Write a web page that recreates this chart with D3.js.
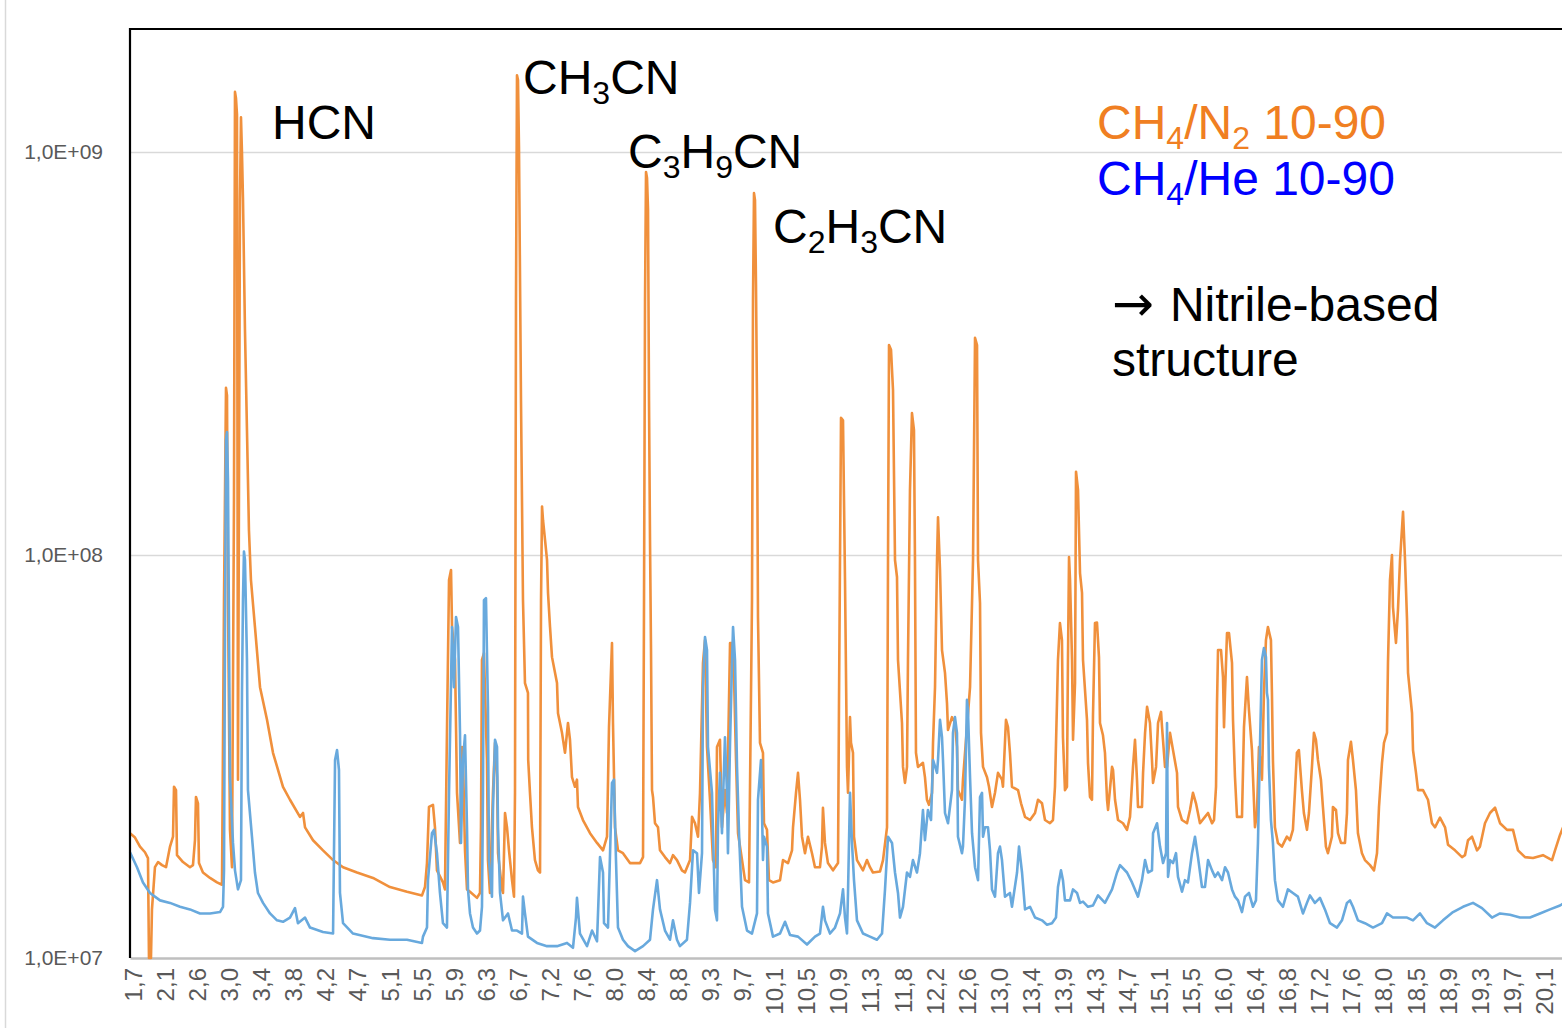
<!DOCTYPE html>
<html>
<head>
<meta charset="utf-8">
<script src="https://cdn.jsdelivr.net/npm/d3@7"></script>
<style>
  body { margin: 0; background: #fff; }
  svg { display: block; }
</style>
</head>
<body>
<svg id="chart" width="1562" height="1028"></svg>
<script>
// Retention-time category labels shown along the bottom axis (minutes)
const tickLabels = ["1,7","2,1","2,6","3,0","3,4","3,8","4,2","4,7","5,1","5,5","5,9","6,3","6,7","7,2","7,6","8,0","8,4","8,8","9,3","9,7","10,1","10,5","10,9","11,3","11,8","12,2","12,6","13,0","13,4","13,9","14,3","14,7","15,1","15,5","16,0","16,4","16,8","17,2","17,6","18,0","18,5","18,9","19,3","19,7","20,1"];
const tickStart = 1.72;     // time of the first labelled category
const tickStep = 0.4175;    // time between labelled categories
const timeRange = [1.681, 20.379];

// Intensity axis (log)
const yTicks = [1e7, 1e8, 1e9];
const yRange = [1e7, 2.02e9];

// CH4/N2 10-90 chromatogram: [retention time (min), intensity]
const n2Trace = [
[1.681,2.04e7],[1.746,1.99e7],[1.811,1.89e7],[1.876,1.83e7],[1.915,1.77e7],[1.928,1.0e7],[1.954,1.0e7],[1.967,1.32e7],[2.006,1.68e7],[2.046,1.73e7],
[2.098,1.70e7],[2.150,1.68e7],[2.202,1.89e7],[2.241,2.00e7],[2.254,2.66e7],[2.280,2.61e7],[2.293,1.80e7],[2.371,1.73e7],[2.462,1.68e7],[2.501,1.70e7],
[2.527,1.96e7],[2.540,2.51e7],[2.566,2.42e7],[2.579,1.72e7],[2.631,1.63e7],[2.723,1.58e7],[2.814,1.54e7],[2.879,1.52e7],[2.905,7.73e7],[2.931,2.60e8],
[2.944,2.49e8],[2.957,7.73e7],[2.983,2.08e7],[3.009,1.68e7],[3.035,1.37e8],[3.048,1.41e9],[3.061,1.36e9],[3.074,1.24e9],[3.087,2.77e7],[3.113,7.60e8],
[3.126,1.22e9],[3.139,9.94e8],[3.152,7.69e8],[3.178,3.62e8],[3.204,2.04e8],[3.230,1.15e8],[3.256,8.67e7],[3.308,6.63e7],[3.374,4.70e7],[3.465,3.90e7],
[3.543,3.23e7],[3.673,2.66e7],[3.764,2.47e7],[3.894,2.24e7],[3.934,2.29e7],[3.960,2.11e7],[4.064,1.96e7],[4.194,1.85e7],[4.325,1.75e7],[4.455,1.68e7],
[4.637,1.63e7],[4.845,1.58e7],[5.066,1.50e7],[5.288,1.46e7],[5.483,1.43e7],[5.522,1.50e7],[5.548,1.72e7],[5.574,2.37e7],[5.626,2.40e7],[5.652,2.11e7],
[5.678,1.65e7],[5.756,1.54e7],[5.782,1.48e7],[5.808,3.62e7],[5.835,8.67e7],[5.861,9.18e7],[5.874,6.63e7],[5.913,5.49e7],[5.939,2.57e7],[5.978,1.93e7],
[6.004,3.34e7],[6.017,3.10e7],[6.043,1.85e7],[6.069,1.48e7],[6.108,1.46e7],[6.199,1.41e7],[6.238,1.45e7],[6.251,2.11e7],[6.264,5.49e7],[6.290,5.71e7],
[6.329,3.10e7],[6.342,1.75e7],[6.368,1.45e7],[6.407,2.57e7],[6.434,3.42e7],[6.460,2.81e7],[6.473,1.82e7],[6.525,1.48e7],[6.538,1.45e7],[6.564,2.29e7],
[6.590,2.11e7],[6.616,1.85e7],[6.655,1.56e7],[6.681,1.42e7],[6.694,2.57e7],[6.707,4.29e8],[6.720,1.55e9],[6.733,1.51e9],[6.746,1.02e9],[6.772,2.42e8],
[6.798,7.73e7],[6.824,4.81e7],[6.863,4.55e7],[6.866,3.10e7],[6.889,2.57e7],[6.915,2.11e7],[6.954,1.75e7],[6.993,1.65e7],[7.020,1.63e7],[7.033,7.73e7],
[7.046,1.32e8],[7.059,1.22e8],[7.085,1.09e8],[7.111,9.72e7],[7.124,8.05e7],[7.150,6.63e7],[7.176,5.58e7],[7.241,4.81e7],[7.254,4.05e7],[7.306,3.62e7],
[7.345,3.23e7],[7.384,3.83e7],[7.410,3.48e7],[7.436,2.81e7],[7.475,2.66e7],[7.501,2.77e7],[7.514,2.37e7],[7.579,2.20e7],[7.671,2.04e7],[7.762,1.93e7],
[7.840,1.85e7],[7.892,2.00e7],[7.918,3.74e7],[7.957,6.05e7],[7.970,3.83e7],[7.996,2.11e7],[8.035,1.85e7],[8.100,1.82e7],[8.191,1.72e7],[8.322,1.72e7],
[8.361,1.78e7],[8.374,7.73e7],[8.387,4.29e8],[8.400,8.92e8],[8.413,8.62e8],[8.426,7.18e8],[8.439,2.42e8],[8.452,1.09e8],[8.465,5.81e7],[8.478,2.61e7],
[8.491,2.51e7],[8.517,2.16e7],[8.556,2.11e7],[8.582,1.85e7],[8.647,1.78e7],[8.712,1.72e7],[8.751,1.80e7],[8.803,1.75e7],[8.868,1.65e7],[8.907,1.63e7],
[8.973,1.75e7],[8.999,2.24e7],[9.038,2.16e7],[9.077,2.00e7],[9.103,2.57e7],[9.142,5.40e7],[9.168,6.15e7],[9.194,3.34e7],[9.233,2.47e7],[9.272,1.75e7],
[9.311,1.68e7],[9.324,3.34e7],[9.363,3.48e7],[9.389,2.11e7],[9.428,2.61e7],[9.454,2.29e7],[9.494,6.05e7],[9.520,6.05e7],[9.546,4.98e7],[9.572,3.10e7],
[9.598,2.04e7],[9.650,1.75e7],[9.689,1.56e7],[9.741,1.54e7],[9.780,7.73e7],[9.793,4.29e8],[9.806,7.91e8],[9.819,7.60e8],[9.832,4.68e8],[9.845,2.42e8],
[9.858,7.02e7],[9.884,3.42e7],[9.923,3.23e7],[9.936,2.16e7],[9.975,2.08e7],[10.001,1.56e7],[10.053,1.54e7],[10.145,1.56e7],[10.184,1.75e7],[10.249,1.72e7],
[10.301,1.85e7],[10.314,2.11e7],[10.353,2.57e7],[10.379,2.88e7],[10.405,2.47e7],[10.431,2.00e7],[10.470,1.82e7],[10.509,2.00e7],[10.561,1.82e7],[10.600,1.68e7],
[10.665,1.68e7],[10.691,1.89e7],[10.704,2.36e7],[10.730,1.93e7],[10.769,1.72e7],[10.835,1.65e7],[10.900,1.72e7],[10.913,4.37e7],[10.939,2.19e8],[10.965,2.16e8],
[10.991,8.67e7],[11.017,2.98e7],[11.030,2.57e7],[11.056,3.96e7],[11.069,3.42e7],[11.095,3.23e7],[11.108,2.00e7],[11.147,1.75e7],[11.225,1.65e7],[11.277,1.75e7],
[11.316,1.68e7],[11.355,1.63e7],[11.447,1.64e7],[11.486,1.75e7],[11.538,2.11e7],[11.551,9.72e7],[11.564,3.32e8],[11.590,3.23e8],[11.616,2.57e8],[11.642,9.72e7],
[11.668,8.82e7],[11.681,5.49e7],[11.733,3.83e7],[11.746,2.98e7],[11.772,2.72e7],[11.798,2.98e7],[11.811,5.49e7],[11.837,1.45e8],[11.863,2.25e8],[11.889,2.04e8],
[11.902,9.72e7],[11.915,3.23e7],[11.941,2.98e7],[12.006,3.05e7],[12.032,2.81e7],[12.058,2.47e7],[12.084,2.40e7],[12.124,2.57e7],[12.137,3.42e7],[12.163,4.70e7],
[12.189,9.72e7],[12.202,1.24e8],[12.228,9.18e7],[12.254,5.81e7],[12.293,5.10e7],[12.319,4.29e7],[12.332,3.68e7],[12.384,3.96e7],[12.423,3.83e7],[12.449,3.34e7],
[12.462,2.61e7],[12.514,2.47e7],[12.527,2.77e7],[12.619,4.70e7],[12.658,9.72e7],[12.684,3.46e8],[12.710,3.32e8],[12.723,9.72e7],[12.749,7.60e7],[12.762,3.62e7],
[12.788,2.98e7],[12.840,2.81e7],[12.866,2.66e7],[12.905,2.37e7],[12.944,2.57e7],[12.983,2.88e7],[13.035,2.77e7],[13.048,2.66e7],[13.087,3.90e7],[13.113,3.74e7],
[13.139,3.23e7],[13.165,2.66e7],[13.244,2.61e7],[13.283,2.42e7],[13.335,2.24e7],[13.400,2.20e7],[13.465,2.29e7],[13.504,2.47e7],[13.556,2.42e7],[13.595,2.20e7],
[13.660,2.16e7],[13.699,2.20e7],[13.725,2.66e7],[13.751,4.29e7],[13.764,5.49e7],[13.790,6.78e7],[13.816,6.15e7],[13.829,3.53e7],[13.855,2.61e7],[13.881,2.66e7],
[13.894,5.49e7],[13.908,9.89e7],[13.921,8.67e7],[13.947,5.49e7],[13.960,3.48e7],[13.986,4.81e7],[13.999,1.61e8],[14.025,1.45e8],[14.051,9.02e7],[14.077,8.05e7],
[14.090,5.49e7],[14.142,3.90e7],[14.155,3.05e7],[14.181,2.51e7],[14.207,2.47e7],[14.220,4.01e7],[14.246,6.78e7],[14.272,6.80e7],[14.298,5.58e7],[14.311,3.83e7],
[14.350,3.57e7],[14.376,3.23e7],[14.403,2.47e7],[14.416,2.33e7],[14.468,2.98e7],[14.481,2.93e7],[14.507,2.47e7],[14.546,2.20e7],[14.611,2.16e7],[14.663,2.08e7],
[14.702,2.24e7],[14.741,2.98e7],[14.767,3.48e7],[14.793,2.77e7],[14.806,2.37e7],[14.858,2.37e7],[14.872,2.88e7],[14.898,3.62e7],[14.924,4.20e7],[14.962,3.83e7],
[14.988,3.10e7],[15.002,2.72e7],[15.041,2.98e7],[15.067,3.83e7],[15.106,4.08e7],[15.119,3.74e7],[15.158,2.98e7],[15.184,2.98e7],[15.223,3.62e7],[15.262,3.28e7],
[15.314,2.88e7],[15.327,2.37e7],[15.379,2.20e7],[15.444,2.16e7],[15.483,2.33e7],[15.522,2.57e7],[15.561,2.42e7],[15.613,2.16e7],[15.678,2.24e7],[15.718,2.29e7],
[15.770,2.16e7],[15.796,2.20e7],[15.822,2.66e7],[15.835,4.29e7],[15.848,5.81e7],[15.887,5.81e7],[15.913,4.98e7],[15.926,3.74e7],[15.939,4.55e7],[15.965,6.40e7],
[15.991,6.40e7],[16.030,5.40e7],[16.043,3.90e7],[16.069,2.81e7],[16.095,2.24e7],[16.160,2.24e7],[16.186,3.74e7],[16.225,4.98e7],[16.251,4.12e7],[16.290,3.28e7],
[16.329,2.11e7],[16.355,2.29e7],[16.381,3.34e7],[16.420,2.77e7],[16.446,4.55e7],[16.472,6.15e7],[16.498,6.63e7],[16.537,6.15e7],[16.550,4.55e7],[16.563,3.10e7],
[16.589,2.11e7],[16.628,1.93e7],[16.680,1.89e7],[16.745,2.00e7],[16.784,1.96e7],[16.823,2.08e7],[16.849,2.57e7],[16.875,3.23e7],[16.901,3.28e7],[16.940,2.61e7],
[16.966,2.29e7],[17.006,2.08e7],[17.032,2.29e7],[17.071,2.98e7],[17.097,3.62e7],[17.123,3.48e7],[17.149,3.10e7],[17.188,2.77e7],[17.214,2.37e7],[17.253,1.89e7],
[17.279,1.82e7],[17.331,2.00e7],[17.344,2.37e7],[17.384,2.33e7],[17.410,2.04e7],[17.449,1.93e7],[17.501,1.93e7],[17.527,2.29e7],[17.540,3.10e7],[17.579,3.44e7],
[17.605,3.10e7],[17.644,2.61e7],[17.670,2.04e7],[17.722,1.82e7],[17.761,1.75e7],[17.827,1.70e7],[17.879,1.65e7],[17.918,1.82e7],[17.944,2.37e7],[17.983,3.05e7],
[18.009,3.42e7],[18.048,3.62e7],[18.061,5.40e7],[18.087,8.67e7],[18.113,1.00e8],[18.126,7.43e7],[18.165,6.05e7],[18.191,7.30e7],[18.218,9.72e7],[18.257,1.28e8],
[18.283,9.72e7],[18.309,6.90e7],[18.322,5.10e7],[18.374,4.05e7],[18.387,3.28e7],[18.426,2.88e7],[18.452,2.61e7],[18.517,2.61e7],[18.582,2.47e7],[18.634,2.16e7],
[18.673,2.11e7],[18.738,2.23e7],[18.804,2.11e7],[18.843,1.91e7],[18.934,1.85e7],[19.025,1.78e7],[19.064,1.80e7],[19.103,1.96e7],[19.155,2.00e7],[19.220,1.85e7],
[19.259,1.89e7],[19.324,2.16e7],[19.389,2.29e7],[19.455,2.36e7],[19.520,2.16e7],[19.611,2.08e7],[19.689,2.08e7],[19.754,1.85e7],[19.845,1.78e7],[19.949,1.77e7],
[20.079,1.80e7],[20.197,1.75e7],[20.236,1.85e7],[20.301,2.02e7],[20.353,2.14e7]
];

// CH4/He 10-90 chromatogram: [retention time (min), intensity]
const heTrace = [
[1.681,1.83e7],[1.772,1.68e7],[1.850,1.54e7],[1.941,1.45e7],[2.072,1.39e7],[2.202,1.37e7],[2.332,1.34e7],[2.462,1.32e7],[2.592,1.29e7],[2.723,1.29e7],
[2.853,1.30e7],[2.892,1.34e7],[2.905,1.65e7],[2.918,6.40e7],[2.931,1.93e8],[2.944,2.02e8],[2.957,1.53e8],[2.983,2.81e7],[3.022,1.93e7],[3.048,1.65e7],
[3.087,1.48e7],[3.126,1.56e7],[3.139,4.55e7],[3.152,7.73e7],[3.165,1.02e8],[3.178,9.72e7],[3.204,5.49e7],[3.217,2.61e7],[3.269,2.00e7],[3.308,1.63e7],
[3.347,1.45e7],[3.413,1.37e7],[3.504,1.29e7],[3.595,1.24e7],[3.673,1.23e7],[3.764,1.26e7],[3.829,1.33e7],[3.868,1.22e7],[3.960,1.26e7],[4.025,1.19e7],
[4.194,1.16e7],[4.325,1.15e7],[4.351,3.10e7],[4.377,3.28e7],[4.402,2.93e7],[4.415,1.45e7],[4.455,1.22e7],[4.585,1.15e7],[4.845,1.12e7],[5.066,1.11e7],
[5.288,1.11e7],[5.483,1.09e7],[5.496,1.13e7],[5.548,1.19e7],[5.561,1.56e7],[5.613,2.04e7],[5.639,2.08e7],[5.678,1.82e7],[5.717,1.45e7],[5.756,1.22e7],
[5.808,1.19e7],[5.835,2.57e7],[5.874,6.63e7],[5.900,4.70e7],[5.926,7.02e7],[5.952,6.63e7],[5.978,3.62e7],[5.991,1.93e7],[6.017,3.10e7],[6.043,3.57e7],
[6.069,2.11e7],[6.082,1.48e7],[6.108,1.29e7],[6.147,1.19e7],[6.199,1.15e7],[6.238,1.17e7],[6.264,1.34e7],[6.277,2.57e7],[6.290,7.73e7],[6.316,7.82e7],
[6.342,4.20e7],[6.355,1.75e7],[6.394,1.42e7],[6.407,2.33e7],[6.434,3.48e7],[6.460,3.34e7],[6.473,2.11e7],[6.499,1.45e7],[6.538,1.24e7],[6.603,1.29e7],
[6.655,1.17e7],[6.720,1.17e7],[6.785,1.15e7],[6.798,1.42e7],[6.824,1.29e7],[6.863,1.13e7],[6.980,1.09e7],[7.111,1.07e7],[7.241,1.07e7],[7.371,1.09e7],
[7.449,1.06e7],[7.488,1.26e7],[7.501,1.41e7],[7.540,1.15e7],[7.632,1.07e7],[7.697,1.17e7],[7.762,1.10e7],[7.801,1.78e7],[7.840,1.63e7],[7.853,1.22e7],
[7.905,1.19e7],[7.957,2.72e7],[7.983,2.77e7],[8.009,1.75e7],[8.035,1.19e7],[8.100,1.11e7],[8.165,1.07e7],[8.257,1.04e7],[8.361,1.07e7],[8.452,1.11e7],
[8.491,1.32e7],[8.543,1.56e7],[8.582,1.32e7],[8.647,1.17e7],[8.712,1.11e7],[8.751,1.24e7],[8.803,1.11e7],[8.842,1.07e7],[8.933,1.11e7],[8.973,1.37e7],
[9.012,1.85e7],[9.064,1.82e7],[9.090,1.45e7],[9.129,1.82e7],[9.142,4.70e7],[9.168,6.26e7],[9.194,5.81e7],[9.207,3.34e7],[9.259,2.57e7],[9.298,1.32e7],
[9.324,1.24e7],[9.337,2.11e7],[9.363,2.88e7],[9.389,2.04e7],[9.428,3.53e7],[9.454,2.57e7],[9.467,1.82e7],[9.494,3.42e7],[9.520,5.40e7],[9.533,6.63e7],
[9.559,5.49e7],[9.585,2.98e7],[9.611,2.04e7],[9.650,1.34e7],[9.715,1.17e7],[9.780,1.15e7],[9.845,1.29e7],[9.858,2.47e7],[9.897,3.10e7],[9.923,1.75e7],
[9.936,2.00e7],[9.975,1.89e7],[9.988,1.29e7],[10.053,1.13e7],[10.145,1.15e7],[10.210,1.23e7],[10.275,1.14e7],[10.379,1.13e7],[10.496,1.08e7],[10.600,1.13e7],
[10.665,1.15e7],[10.704,1.34e7],[10.730,1.24e7],[10.796,1.15e7],[10.861,1.19e7],[10.926,1.29e7],[10.965,1.48e7],[10.991,1.26e7],[11.017,1.15e7],[11.030,1.45e7],
[11.056,2.57e7],[11.082,1.93e7],[11.108,1.56e7],[11.147,1.24e7],[11.225,1.15e7],[11.316,1.13e7],[11.407,1.11e7],[11.473,1.15e7],[11.512,1.48e7],[11.551,2.00e7],
[11.603,1.93e7],[11.642,1.63e7],[11.681,1.45e7],[11.707,1.26e7],[11.746,1.34e7],[11.798,1.63e7],[11.837,1.59e7],[11.876,1.75e7],[11.928,1.63e7],[11.967,1.82e7],
[12.006,2.33e7],[12.032,1.96e7],[12.071,2.33e7],[12.111,2.20e7],[12.137,3.10e7],[12.189,2.88e7],[12.202,3.10e7],[12.228,3.90e7],[12.254,3.53e7],[12.267,3.10e7],
[12.293,2.29e7],[12.332,2.16e7],[12.384,2.61e7],[12.397,3.62e7],[12.423,3.96e7],[12.449,3.62e7],[12.462,2.00e7],[12.514,1.82e7],[12.527,1.89e7],[12.553,2.47e7],
[12.579,4.37e7],[12.592,4.12e7],[12.619,2.81e7],[12.645,2.04e7],[12.684,1.68e7],[12.723,1.56e7],[12.749,2.51e7],[12.775,2.57e7],[12.788,2.00e7],[12.814,2.11e7],
[12.853,2.11e7],[12.879,1.85e7],[12.905,1.48e7],[12.944,1.42e7],[12.983,1.82e7],[13.009,1.89e7],[13.035,1.75e7],[13.074,1.42e7],[13.139,1.45e7],[13.165,1.34e7],
[13.231,1.63e7],[13.257,1.89e7],[13.296,1.63e7],[13.335,1.32e7],[13.400,1.34e7],[13.465,1.26e7],[13.556,1.24e7],[13.621,1.21e7],[13.686,1.22e7],[13.738,1.26e7],
[13.764,1.50e7],[13.803,1.65e7],[13.829,1.56e7],[13.855,1.39e7],[13.921,1.39e7],[13.960,1.48e7],[14.012,1.45e7],[14.051,1.37e7],[14.090,1.38e7],[14.155,1.34e7],
[14.220,1.35e7],[14.285,1.43e7],[14.376,1.37e7],[14.468,1.48e7],[14.533,1.63e7],[14.572,1.70e7],[14.663,1.63e7],[14.728,1.54e7],[14.806,1.42e7],[14.858,1.56e7],
[14.898,1.75e7],[14.937,1.63e7],[14.988,1.65e7],[15.002,2.04e7],[15.054,2.16e7],[15.093,1.89e7],[15.132,1.72e7],[15.171,1.82e7],[15.184,3.83e7],[15.197,1.59e7],
[15.223,1.75e7],[15.262,1.72e7],[15.301,1.82e7],[15.327,1.59e7],[15.379,1.46e7],[15.418,1.56e7],[15.457,1.54e7],[15.509,1.82e7],[15.548,2.00e7],[15.587,1.78e7],
[15.639,1.50e7],[15.678,1.50e7],[15.718,1.75e7],[15.770,1.65e7],[15.809,1.59e7],[15.848,1.63e7],[15.900,1.56e7],[15.939,1.68e7],[15.978,1.63e7],[16.030,1.48e7],
[16.069,1.42e7],[16.108,1.39e7],[16.160,1.30e7],[16.199,1.42e7],[16.251,1.45e7],[16.303,1.34e7],[16.342,1.39e7],[16.368,1.93e7],[16.394,3.34e7],[16.420,5.49e7],
[16.446,5.88e7],[16.472,5.58e7],[16.485,4.55e7],[16.498,4.37e7],[16.511,2.98e7],[16.537,2.20e7],[16.563,1.93e7],[16.589,1.56e7],[16.628,1.39e7],[16.693,1.34e7],
[16.758,1.48e7],[16.823,1.45e7],[16.888,1.42e7],[16.954,1.29e7],[17.006,1.37e7],[17.045,1.43e7],[17.110,1.37e7],[17.175,1.41e7],[17.240,1.32e7],[17.306,1.22e7],
[17.397,1.19e7],[17.462,1.24e7],[17.527,1.37e7],[17.566,1.39e7],[17.605,1.34e7],[17.670,1.24e7],[17.761,1.22e7],[17.866,1.19e7],[17.983,1.22e7],[18.048,1.29e7],
[18.126,1.26e7],[18.218,1.26e7],[18.309,1.26e7],[18.387,1.24e7],[18.478,1.29e7],[18.569,1.22e7],[18.673,1.19e7],[18.777,1.24e7],[18.908,1.30e7],[19.038,1.34e7],
[19.168,1.37e7],[19.285,1.33e7],[19.415,1.26e7],[19.520,1.29e7],[19.650,1.28e7],[19.780,1.26e7],[19.910,1.26e7],[20.040,1.29e7],[20.171,1.32e7],[20.301,1.35e7],
[20.353,1.37e7]
];

const seriesColors = { n2: "#F0903C", he: "#68A9DD" };
const FONT = "Liberation Sans, Arial, sans-serif";

const svg = d3.select("#chart");
const W = 1562, H = 1028;
const plot = { left: 130, top: 29, right: 1566, bottom: 958 };

const x = d3.scaleLinear().domain(timeRange).range([plot.left, plot.right]);
const y = d3.scaleLog().domain(yRange).range([plot.bottom, plot.top]);

// outer chart-area border (left edge)
svg.append("line")
  .attr("x1", 5.5).attr("x2", 5.5).attr("y1", 0).attr("y2", H)
  .attr("stroke", "#d9d9d9").attr("stroke-width", 1.5);

// horizontal gridlines
svg.append("g")
  .selectAll("line")
  .data(yTicks.filter(d => d > yRange[0]))
  .join("line")
  .attr("x1", plot.left).attr("x2", W)
  .attr("y1", d => Math.round(y(d)) + 0.5).attr("y2", d => Math.round(y(d)) + 0.5)
  .attr("stroke", "#d9d9d9").attr("stroke-width", 1.5);

// y axis labels
const fmtExp = d => "1,0E+" + String(Math.round(Math.log10(d))).padStart(2, "0");
const yAxis = d3.axisLeft(y).tickValues(yTicks).tickFormat(fmtExp).tickSize(0).tickPadding(27);
const yG = svg.append("g").attr("transform", `translate(${plot.left},0)`).call(yAxis);
yG.select(".domain").remove();
yG.selectAll("text")
  .attr("font-family", FONT)
  .attr("font-size", 21)
  .attr("fill", "#595959");

// x axis with rotated category labels
const tickTimes = tickLabels.map((_, i) => tickStart + i * tickStep);
const xAxis = d3.axisBottom(x).tickValues(tickTimes).tickFormat((d, i) => tickLabels[i]).tickSize(0);
const xG = svg.append("g").attr("transform", `translate(0,${plot.bottom})`).call(xAxis);
xG.select(".domain").attr("stroke", "#bfbfbf").attr("stroke-width", 2.5);
xG.selectAll(".tick text")
  .attr("font-family", FONT)
  .attr("font-size", 24)
  .attr("fill", "#595959")
  .attr("text-anchor", "end")
  .attr("dy", null)
  .attr("y", 0)
  .attr("transform", "translate(0,10) rotate(-90)")
  .attr("dominant-baseline", "central");

// traces
const line = d3.line().x(d => x(d[0])).y(d => y(d[1]));
const traces = svg.append("g");
traces.append("path").datum(n2Trace)
  .attr("d", line).attr("fill", "none")
  .attr("stroke", seriesColors.n2).attr("stroke-width", 2.6).attr("stroke-linejoin", "round");
traces.append("path").datum(heTrace)
  .attr("d", line).attr("fill", "none")
  .attr("stroke", seriesColors.he).attr("stroke-width", 2.6).attr("stroke-linejoin", "round");

// plot frame: left and top edges
svg.append("path")
  .attr("d", `M${plot.left},${plot.bottom} V${plot.top} H${W}`)
  .attr("fill", "none").attr("stroke", "#000").attr("stroke-width", 2.2);

// compound labels with subscripts
function formula(parent, xPos, yPos, parts, color) {
  const t = parent.append("text")
    .attr("x", xPos).attr("y", yPos)
    .attr("font-family", FONT)
    .attr("font-size", 48).attr("fill", color);
  let shifted = false;
  parts.forEach(p => {
    if (typeof p === "string") {
      const s = t.append("tspan").text(p);
      if (shifted) { s.attr("dy", -10); shifted = false; }
    } else {
      t.append("tspan").attr("font-size", 32).attr("dy", 10).text(p.sub);
      shifted = true;
    }
  });
  return t;
}

const labels = svg.append("g");
formula(labels, 272, 139, ["HCN"], "#000");
formula(labels, 523, 94, ["CH", {sub: "3"}, "CN"], "#000");
formula(labels, 628, 168, ["C", {sub: "3"}, "H", {sub: "9"}, "CN"], "#000");
formula(labels, 773, 243, ["C", {sub: "2"}, "H", {sub: "3"}, "CN"], "#000");

formula(labels, 1097, 139, ["CH", {sub: "4"}, "/N", {sub: "2"}, " 10-90"], "#F07F22");
formula(labels, 1097, 195, ["CH", {sub: "4"}, "/He 10-90"], "#0000FF");

const note = labels.append("text").attr("x", 1112).attr("y", 321)
  .attr("font-family", FONT).attr("font-size", 48);
note.append("tspan").attr("font-family", "DejaVu Sans, sans-serif")
  .attr("font-size", 50).text("\u2192");
note.append("tspan").attr("dx", 16).text("Nitrile-based");
labels.append("text").attr("x", 1112).attr("y", 376)
  .attr("font-family", FONT).attr("font-size", 48)
  .text("structure");
</script>
</body>
</html>
